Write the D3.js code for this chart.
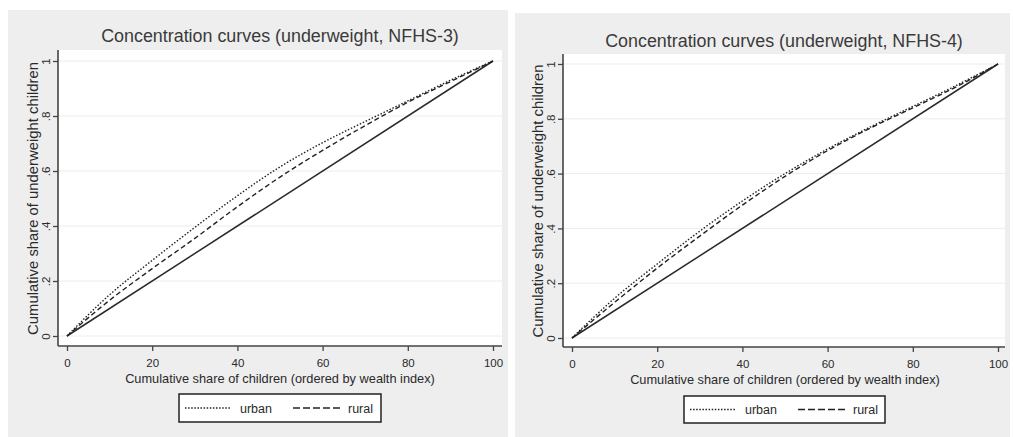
<!DOCTYPE html>
<html><head><meta charset="utf-8">
<script src="https://cdn.jsdelivr.net/npm/d3@7"></script>
<style>
html,body{margin:0;padding:0;background:#fff;}
svg{display:block;font-family:"Liberation Sans",Arial,sans-serif;}
</style></head>
<body><svg id="chart" width="1013" height="437"></svg>
<script>
// ---- data ----
const shareX = [0, 10, 20, 30, 40, 50, 60, 70, 80, 90, 100];
const nfhs3Urban = [0, 0.15, 0.275, 0.395, 0.51, 0.615, 0.703, 0.78, 0.855, 0.93, 1];
const nfhs3Rural = [0, 0.13, 0.245, 0.355, 0.47, 0.578, 0.675, 0.765, 0.85, 0.925, 1];
const nfhs4Urban = [0, 0.145, 0.27, 0.39, 0.5, 0.6, 0.69, 0.77, 0.845, 0.92, 1];
const nfhs4Rural = [0, 0.13, 0.255, 0.372, 0.485, 0.59, 0.684, 0.766, 0.84, 0.915, 1];
const equality = [0, 100];
const xTicks = [0, 20, 40, 60, 80, 100];
const yTicks = [0, 0.2, 0.4, 0.6, 0.8, 1];
const yTickLabels = ["0", ".2", ".4", ".6", ".8", "1"];
const titles = ["Concentration curves (underweight, NFHS-3)", "Concentration curves (underweight, NFHS-4)"];
const seriesNames = ["urban", "rural"];
const xTitle = "Cumulative share of children (ordered by wealth index)";
const yTitle = "Cumulative share of underweight children";

const svg = d3.select("#chart");
const ink = "#2a2a2a";

function fitText(sel, width) {
  const n = sel.node();
  const w = n.getComputedTextLength();
  const fs = parseFloat(sel.attr("font-size"));
  sel.attr("font-size", (fs * width / w).toFixed(2));
}

const panels = [
  {bg:[8,10,500,427], plot:[58,50,502,346], xr:[67,493], yr:[336,61], titleX:280, titleY:42, tickY:367, xlabY:383, legend:[179,394,202,28], urban:nfhs3Urban, rural:nfhs3Rural, title:titles[0]},
  {bg:[515,13,495,424], plot:[563,54,1005,347], xr:[572,998], yr:[338,64], titleX:784, titleY:47, tickY:368, xlabY:384, legend:[684,396,201,27], urban:nfhs4Urban, rural:nfhs4Rural, title:titles[1]}
];

panels.forEach(p => {
  const g = svg.append("g");
  g.append("rect").attr("x",p.bg[0]).attr("y",p.bg[1]).attr("width",p.bg[2]).attr("height",p.bg[3]).attr("fill","#eeeeee");
  const [px0,py0,px1,py1] = p.plot;
  g.append("rect").attr("x",px0).attr("y",py0).attr("width",px1-px0).attr("height",py1-py0).attr("fill","#ffffff");
  const x = d3.scaleLinear().domain([0,100]).range(p.xr);
  const y = d3.scaleLinear().domain([0,1]).range(p.yr);

  // gridlines
  g.append("g").selectAll("line").data(yTicks).join("line")
    .attr("x1",px0).attr("x2",px1).attr("y1",d=>y(d)).attr("y2",d=>y(d))
    .attr("stroke","#ececec").attr("stroke-width",1);

  // x axis
  const xa = g.append("g").attr("transform",`translate(0,${py1})`)
    .call(d3.axisBottom(x).tickValues(xTicks).tickSize(5).tickPadding(3).tickFormat(d3.format("d")));
  xa.select(".domain").attr("d",`M${px0},0H${px1}`).attr("stroke","#444").attr("stroke-width",1.6);
  xa.selectAll(".tick line").attr("stroke","#444").attr("stroke-width",1.3);
  xa.selectAll(".tick text").attr("font-size",11.5).attr("fill",ink).attr("font-family","Liberation Sans, Arial, sans-serif")
    .attr("y", p.tickY - py1).attr("dy",0);

  // y axis
  const ya = g.append("g").attr("transform",`translate(${px0},0)`)
    .call(d3.axisLeft(y).tickValues(yTicks).tickSize(5).tickFormat((d,i)=>yTickLabels[i]));
  ya.select(".domain").attr("d",`M0,${py0}V${py1}`).attr("stroke","#444").attr("stroke-width",1.6);
  ya.selectAll(".tick line").attr("stroke","#444").attr("stroke-width",1.3);
  ya.selectAll(".tick text").attr("font-size",11.5).attr("fill",ink).attr("font-family","Liberation Sans, Arial, sans-serif")
    .attr("x",0).attr("dy",0).attr("text-anchor","middle")
    .attr("transform","translate(-8,0) rotate(-90)");

  // lines
  const line = d3.line().x((d,i)=>x(shareX[i])).y(d=>y(d)).curve(d3.curveMonotoneX);
  g.append("path").datum(equality.map(v=>v/100)).attr("fill","none").attr("stroke",ink).attr("stroke-width",1.5)
    .attr("d", d3.line().x(d=>x(d*100)).y(d=>y(d)));
  g.append("path").datum(p.rural).attr("fill","none").attr("stroke","#222").attr("stroke-width",1.4)
    .attr("stroke-dasharray","5,3").attr("d",line);
  g.append("path").datum(p.urban).attr("fill","none").attr("stroke","#222").attr("stroke-width",1.4)
    .attr("stroke-dasharray","1.5,1.8").attr("d",line);

  // titles
  const t = g.append("text").attr("x",p.titleX).attr("y",p.titleY).attr("text-anchor","middle")
    .attr("font-size",17).attr("fill","#3a3a3a").text(p.title);
  fitText(t, 358);
  const xt = g.append("text").attr("x",(p.xr[0]+p.xr[1])/2).attr("y",p.xlabY).attr("text-anchor","middle")
    .attr("font-size",12.5).attr("fill",ink).text(xTitle);
  fitText(xt, 310);
  const yt = g.append("text").attr("text-anchor","middle").attr("font-size",12.5).attr("fill",ink)
    .attr("transform",`translate(${px0-20},${(p.yr[0]+p.yr[1])/2}) rotate(-90)`).text(yTitle);
  fitText(yt, 273);

  // legend
  const [lx,ly,lw,lh] = p.legend;
  const lg = g.append("g");
  lg.append("rect").attr("x",lx).attr("y",ly).attr("width",lw).attr("height",lh)
    .attr("fill","#fff").attr("stroke","#222").attr("stroke-width",1.5);
  const cy = ly + lh/2;
  lg.append("line").attr("x1",lx+6).attr("x2",lx+51).attr("y1",cy).attr("y2",cy)
    .attr("stroke","#222").attr("stroke-width",1.3).attr("stroke-dasharray","1.5,1.6");
  lg.append("text").attr("x",lx+61).attr("y",cy+4.5).attr("font-size",12.5).attr("fill",ink).text(seriesNames[0]);
  lg.append("line").attr("x1",lx+114).attr("x2",lx+162).attr("y1",cy).attr("y2",cy)
    .attr("stroke","#222").attr("stroke-width",1.4).attr("stroke-dasharray","7,3");
  lg.append("text").attr("x",lx+169).attr("y",cy+4.5).attr("font-size",12.5).attr("fill",ink).text(seriesNames[1]);
});
</script>
</body></html>
